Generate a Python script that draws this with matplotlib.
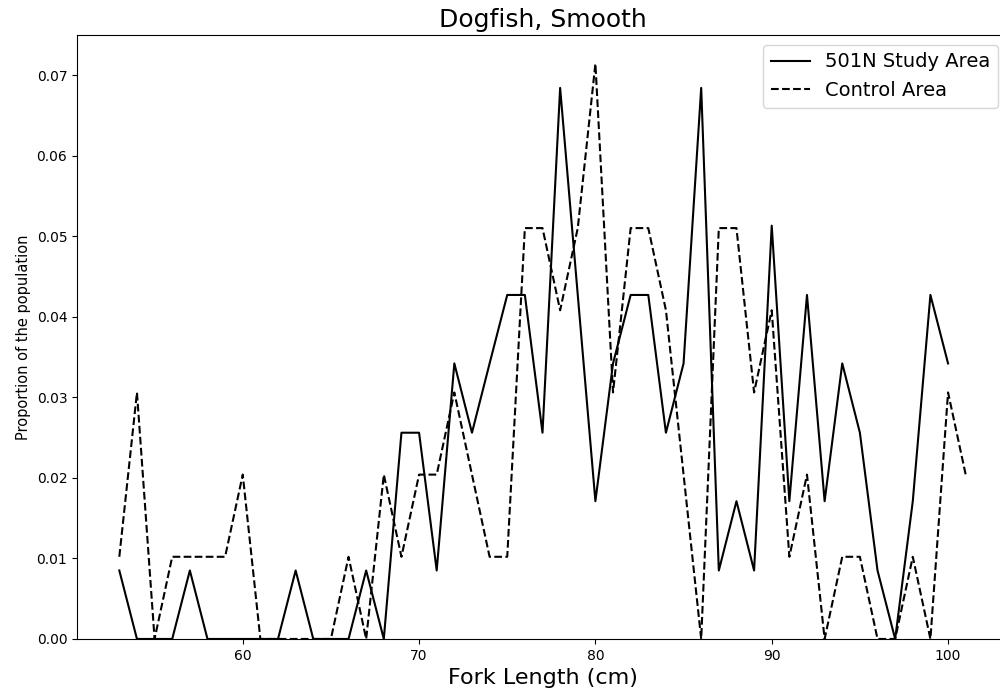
import matplotlib
matplotlib.use("Agg")
import matplotlib.pyplot as plt

# fork lengths (cm)
study_len = list(range(53, 101))
control_len = list(range(53, 102))

# proportion of the population, 501N study area
study_prop = [
    0.0085, 0.0, 0.0, 0.0, 0.0085, 0.0, 0.0, 0.0,
    0.0, 0.0, 0.0085, 0.0, 0.0, 0.0, 0.0085, 0.0,
    0.0256, 0.0256, 0.0085, 0.0342, 0.0256, 0.0342, 0.0427, 0.0427,
    0.0256, 0.0684, 0.0427, 0.0171, 0.0342, 0.0427, 0.0427, 0.0256,
    0.0342, 0.0684, 0.0085, 0.0171, 0.0085, 0.0513, 0.0171, 0.0427,
    0.0171, 0.0342, 0.0256, 0.0085, 0.0, 0.0171, 0.0427, 0.0342,
]

# proportion of the population, control area
control_prop = [
    0.0102, 0.0306, 0.0, 0.0102, 0.0102, 0.0102, 0.0102, 0.0204,
    0.0, 0.0, 0.0, 0.0, 0.0, 0.0102, 0.0, 0.0204,
    0.0102, 0.0204, 0.0204, 0.0306, 0.0204, 0.0102, 0.0102, 0.0510,
    0.0510, 0.0408, 0.0510, 0.0714, 0.0306, 0.0510, 0.0510, 0.0408,
    0.0204, 0.0, 0.0510, 0.0510, 0.0306, 0.0408, 0.0102, 0.0204,
    0.0, 0.0102, 0.0102, 0.0, 0.0, 0.0102, 0.0, 0.0306, 0.0204,
]


def main():
    fig = plt.figure(figsize=(10, 6.94), dpi=100)
    ax = fig.add_axes([0.077, 0.0793, 0.931, 0.8703])

    ax.plot(study_len, study_prop, color="black", linestyle="-", label="501N Study Area")
    ax.plot(control_len, control_prop, color="black", linestyle="--", label="Control Area")

    ax.set_ylim(bottom=0)
    ax.set_xlabel("Fork Length (cm)", fontsize=16)
    ax.set_ylabel("Proportion of the population", fontsize=10.5)
    ax.set_title("Dogfish, Smooth", fontsize=18)
    ax.legend(loc="upper right", fontsize=14)

    fig.savefig("out.png", dpi=100)


if __name__ == "__main__":
    main()
